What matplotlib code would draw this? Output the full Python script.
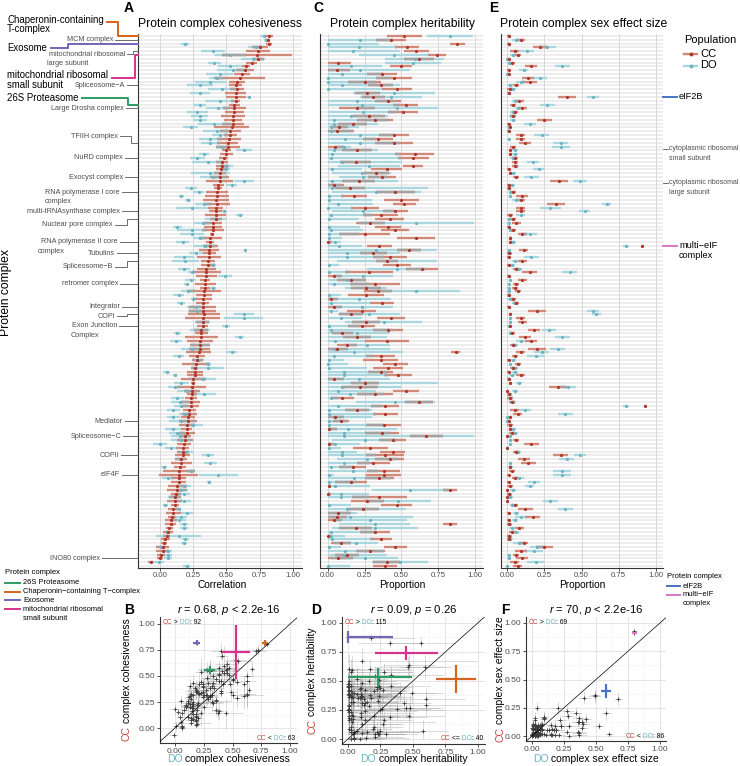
import numpy as np
import matplotlib
matplotlib.use("Agg")
import matplotlib.pyplot as plt

plt.rcParams["font.family"] = ["Liberation Sans", "DejaVu Sans"]
plt.rcParams["mathtext.fontset"] = "custom"
plt.rcParams["mathtext.rm"] = "Liberation Sans"
plt.rcParams["mathtext.it"] = "Liberation Sans:italic"

nan = float("nan")

# ---------------- data (rows ordered as in the figure, top to bottom) ----------------
# Panel A: cohesiveness (correlation), mean and CI half-width
A_CC = [0.82,0.81,0.82,0.75,0.74,0.73,0.74,0.69,0.65,0.64,
        0.62,0.60,0.58,0.57,0.58,0.57,0.57,0.57,0.56,0.56,
        0.56,0.55,0.55,0.55,0.54,0.53,0.53,0.52,0.51,0.51,
        0.50,0.50,0.48,0.47,0.47,0.46,0.45,0.45,0.45,0.44,
        0.44,0.43,0.43,0.42,0.43,0.42,0.42,0.42,0.42,0.40,
        0.40,0.40,0.39,0.38,0.38,0.38,0.37,0.37,0.37,0.36,
        0.36,0.35,0.35,0.35,0.34,0.34,0.34,0.33,0.33,0.32,
        0.32,0.32,0.32,0.33,0.32,0.32,0.32,0.31,0.31,0.31,
        0.30,0.30,0.30,0.29,0.28,0.28,0.27,0.26,0.26,0.26,
        0.25,0.25,0.24,0.24,0.24,0.23,0.23,0.23,0.22,0.22,
        0.21,0.21,0.20,0.20,0.20,0.19,0.19,0.18,0.17,0.17,
        0.17,0.16,0.16,0.15,0.14,0.14,0.14,0.14,0.13,0.13,
        0.12,0.11,0.11,0.11,0.10,0.10,0.09,0.08,0.08,0.07,
        0.06,0.05,0.04,0.03,0.02,0.02,0.01,0.00,-0.07,nan]
A_CC_hw = [0.03,0.02,0.025,0.06,0.09,0.26,0.04,0.04,0.03,0.065,
           0.06,0.19,0.06,0.05,0.05,0.08,0.075,0.035,0.04,0.085,
           0.07,0.09,0.07,0.08,0.13,0.08,0.05,0.09,0.08,0.09,
           0.035,0.05,0.035,0.045,0.05,0.04,0.045,0.07,0.10,0.04,
           0.03,0.085,0.09,0.10,0.10,0.055,0.05,0.08,0.045,0.07,
           0.07,0.085,0.015,0.085,0.03,0.055,0.075,0.05,0.09,0.055,
           0.055,0.07,0.11,0.08,0.04,0.08,0.04,0.13,0.06,0.07,
           0.05,0.10,0.10,0.12,0.13,0.05,0.04,0.055,0.05,0.125,
           0.10,0.075,0.08,0.095,0.06,0.04,0.105,0.025,0.06,0.06,
           0.095,0.015,0.11,0.06,0.035,0.045,0.07,0.065,0.05,0.055,
           0.05,0.065,0.06,0.04,0.06,0.045,0.06,0.055,0.05,0.045,
           0.055,0.045,0.08,0.045,0.12,0.145,0.055,0.055,0.07,0.075,
           0.04,0.045,0.055,0.03,0.04,0.055,0.03,0.045,0.04,0.025,
           0.035,0.025,0.035,0.025,0.05,0.05,0.03,0.025,0.02,0.02]
A_DO = [0.78,0.80,0.19,0.72,0.40,0.53,0.70,0.41,0.53,0.55,
        0.45,0.43,0.38,0.30,0.47,0.30,0.67,0.45,0.30,0.44,
        0.28,0.30,0.30,0.41,0.23,0.43,0.45,0.38,0.38,0.47,
        0.63,0.33,0.28,0.36,0.50,0.50,0.38,0.40,0.63,0.54,
        0.23,0.29,0.16,0.21,0.33,0.24,0.48,0.60,0.42,0.32,
        0.13,0.24,0.24,0.30,0.17,0.34,0.64,0.27,0.18,0.19,
        0.40,0.18,0.24,0.49,0.23,0.20,0.40,0.21,0.14,0.25,
        0.16,0.27,0.28,0.63,0.63,0.32,0.50,0.30,0.13,0.60,
        0.12,0.30,0.24,0.54,0.14,0.29,0.36,0.36,0.05,0.11,
        0.32,0.16,0.11,0.20,0.33,0.13,0.15,0.16,0.10,0.19,
        0.10,0.16,0.25,0.10,0.13,0.15,0.16,0.00,0.08,0.19,
        0.36,0.15,0.38,0.03,0.23,0.44,0.06,0.37,0.18,0.16,
        0.18,0.11,0.18,0.04,0.14,0.20,0.16,0.14,0.18,0.18,
        0.05,0.14,0.19,0.18,0.01,0.06,0.06,0.06,-0.01,0.20]
A_DO_hw = [0.02,0.02,0.03,0.055,0.09,0.12,0.09,0.05,0.09,0.12,
           0.10,0.06,0.12,0.10,0.11,0.075,0.015,0.11,0.05,0.09,
           0.08,0.065,0.055,0.125,0.055,0.11,0.06,0.09,0.075,0.05,
           0.06,0.04,0.055,0.12,0.05,0.03,0.15,0.10,0.075,0.04,
           0.045,0.04,0.02,0.025,0.065,0.12,0.02,0.025,0.08,0.065,
           0.035,0.115,0.09,0.055,0.05,0.085,0.01,0.055,0.075,0.10,
           0.02,0.045,0.03,0.05,0.04,0.02,0.025,0.05,0.04,0.02,
           0.03,0.07,0.07,0.075,0.145,0.06,0.03,0.075,0.025,0.035,
           0.045,0.075,0.08,0.04,0.04,0.04,0.025,0.125,0.025,0.015,
           0.10,0.055,0.05,0.075,0.09,0.05,0.065,0.055,0.05,0.05,
           0.05,0.095,0.07,0.06,0.06,0.07,0.075,0.055,0.045,0.055,
           0.045,0.04,0.05,0.02,0.03,0.15,0.045,0.015,0.055,0.05,
           0.045,0.05,0.05,0.02,0.02,0.045,0.045,0.055,0.03,0.03,
           0.015,0.17,0.025,0.025,0.025,0.03,0.03,0.03,0.04,0.025]

# Panel C: heritability (proportion)
C_CC = [0.52,0.43,0.88,0.54,0.60,0.74,0.62,0.07,0.50,0.06,
        0.37,0.45,0.25,0.36,0.47,0.27,0.31,0.41,0.53,0.20,
        0.51,0.28,0.32,0.17,0.08,0.06,0.45,0.34,0.45,0.05,
        0.20,0.59,0.58,0.19,0.58,0.40,0.33,0.37,0.21,0.04,
        0.15,0.46,0.18,0.50,0.52,0.25,0.46,0.36,0.42,0.29,
        0.41,0.46,0.25,0.60,0.00,0.35,0.55,0.31,0.42,0.40,
        0.47,0.64,0.28,0.04,0.16,0.32,0.26,0.34,0.26,0.02,
        0.37,0.04,0.23,0.16,0.43,0.26,0.23,0.41,0.10,0.20,
        0.40,0.13,0.06,0.87,0.36,0.36,0.46,0.41,0.36,0.48,
        0.04,0.25,0.22,0.53,0.32,0.10,0.62,0.39,0.20,0.39,
        0.05,0.09,0.38,0.01,0.37,0.67,0.44,0.01,0.29,0.44,
        0.39,0.42,0.31,0.17,0.38,0.38,0.35,0.16,0.01,0.83,
        0.00,0.35,0.27,0.47,0.24,0.07,0.06,0.04,0.83,0.19,
        0.32,0.00,0.36,0.09,0.46,0.29,0.13,0.07,0.40,0.39]
C_CC_hw = [0.12,0.10,0.05,0.08,0.085,0.06,0.10,0.09,0.075,0.09,
           0.10,0.12,0.11,0.085,0.10,0.085,0.08,0.09,0.085,0.12,
           0.10,0.11,0.12,0.10,0.06,0.12,0.105,0.10,0.13,0.06,
           0.10,0.13,0.105,0.105,0.07,0.105,0.085,0.095,0.11,0.07,
           0.10,0.13,0.09,0.12,0.08,0.095,0.085,0.12,0.10,0.10,
           0.09,0.095,0.17,0.13,0.03,0.085,0.08,0.09,0.115,0.075,
           0.095,0.11,0.165,0.06,0.10,0.17,0.10,0.095,0.12,0.05,
           0.08,0.06,0.10,0.08,0.095,0.095,0.09,0.10,0.07,0.095,
           0.15,0.07,0.08,0.03,0.10,0.12,0.085,0.10,0.085,0.095,
           0.07,0.095,0.12,0.09,0.12,0.08,0.095,0.095,0.08,0.085,
           0.06,0.055,0.12,0.05,0.115,0.11,0.09,0.03,0.12,0.085,
           0.13,0.10,0.11,0.09,0.11,0.12,0.10,0.11,0.01,0.05,
           0.02,0.185,0.11,0.105,0.11,0.09,0.07,0.06,0.05,0.11,
           0.10,0.02,0.075,0.07,0.075,0.10,0.08,0.10,0.09,0.08]
C_DO = [0.83,0.22,0.00,0.21,0.17,0.45,0.59,0.58,0.16,0.22,
        0.10,0.00,0.00,0.10,0.00,0.45,0.43,0.20,0.23,0.47,
        0.24,0.16,0.04,0.04,0.02,0.02,0.22,0.12,0.22,0.11,
        0.04,0.03,0.02,0.10,0.28,0.03,0.23,0.24,0.03,0.04,
        0.03,0.33,0.01,0.01,0.07,0.00,0.24,0.02,0.01,0.60,
        0.01,0.02,0.01,0.01,0.05,0.08,0.33,0.13,0.13,0.40,
        0.01,0.47,0.01,0.24,0.13,0.04,0.26,0.60,0.01,0.21,
        0.02,0.23,0.02,0.28,0.09,0.38,0.01,0.02,0.20,0.20,
        0.05,0.27,0.05,0.18,0.04,0.01,0.00,0.01,0.11,0.11,
        0.21,0.25,0.10,0.07,0.15,0.02,0.46,0.07,0.01,0.01,
        0.05,0.01,0.01,0.14,0.11,0.11,0.25,0.05,0.01,0.10,
        0.10,0.27,0.11,0.02,0.17,0.01,0.18,0.01,0.05,0.56,
        0.09,0.09,0.48,0.01,0.13,0.07,0.15,0.29,0.32,0.32,
        0.02,0.02,0.03,0.19,0.01,0.12,0.11,0.25,0.49,0.00]
C_DO_hw = [0.155,0.22,0.35,0.26,0.32,0.24,0.20,0.19,0.21,0.34,
           0.28,0.43,0.33,0.39,0.37,0.28,0.21,0.25,0.26,0.28,
           0.23,0.25,0.37,0.30,0.19,0.15,0.23,0.21,0.27,0.05,
           0.30,0.46,0.48,0.40,0.21,0.20,0.20,0.16,0.45,0.05,
           0.65,0.30,0.10,0.29,0.24,0.17,0.21,0.28,0.20,0.39,
           0.21,0.22,0.20,0.09,0.04,0.15,0.41,0.36,0.25,0.34,
           0.07,0.20,0.14,0.20,0.12,0.24,0.14,0.30,0.08,0.22,
           0.27,0.21,0.05,0.21,0.14,0.26,0.21,0.42,0.22,0.20,
           0.20,0.15,0.37,0.33,0.27,0.10,0.14,0.26,0.29,0.30,
           0.21,0.50,0.40,0.26,0.23,0.06,0.27,0.30,0.29,0.32,
           0.25,0.12,0.37,0.33,0.31,0.88,0.22,0.17,0.08,0.10,
           0.23,0.21,0.18,0.16,0.17,0.03,0.25,0.19,0.24,0.26,
           0.19,0.19,0.22,0.15,0.40,0.13,0.43,0.25,0.24,0.29,
           0.30,0.10,0.28,0.15,0.08,0.26,0.29,0.23,0.19,0.15]

# Panel E: sex effect size (proportion)
E_CC = [0.01,0.09,0.01,0.22,0.05,0.07,0.01,0.03,0.16,0.01,
        0.01,0.14,0.15,0.06,0.02,0.01,0.40,0.08,0.04,0.10,
        0.05,0.04,0.25,0.01,0.02,0.01,0.09,0.09,0.12,0.04,
        0.02,0.02,0.05,0.05,0.05,0.01,0.02,0.06,0.35,0.01,
        0.01,0.04,0.10,0.09,0.33,0.09,0.09,0.02,0.04,0.06,
        0.01,0.04,0.10,0.02,0.02,0.91,0.11,0.01,0.01,0.10,
        0.01,0.06,0.15,0.01,0.10,0.06,0.05,0.07,0.01,0.04,
        0.06,0.01,0.20,0.02,0.09,0.10,0.02,0.18,0.03,0.12,
        0.16,0.04,0.20,0.09,0.05,0.01,0.07,0.04,0.01,0.09,
        0.01,0.02,0.34,0.00,0.01,0.02,0.03,0.93,0.05,0.07,
        0.02,0.01,0.02,0.02,0.03,0.00,0.06,0.16,0.00,0.06,
        0.36,0.11,0.14,0.02,0.03,0.01,0.05,0.01,0.02,0.00,
        0.01,0.00,0.00,0.05,0.12,0.01,0.17,0.01,0.01,0.08,
        0.03,0.01,0.01,0.11,0.25,0.09,0.06,0.10,0.05,0.07]
E_CC_hw = [0.01,0.03,0.01,0.05,0.03,0.02,0.01,0.02,0.04,0.01,
           0.01,0.04,0.05,0.02,0.02,0.01,0.06,0.03,0.02,0.03,
           0.02,0.02,0.05,0.01,0.01,0.01,0.03,0.03,0.04,0.02,
           0.01,0.01,0.02,0.02,0.02,0.01,0.01,0.02,0.06,0.01,
           0.01,0.02,0.04,0.03,0.06,0.03,0.03,0.02,0.02,0.03,
           0.01,0.02,0.03,0.01,0.01,0.01,0.03,0.01,0.01,0.03,
           0.01,0.02,0.05,0.01,0.03,0.02,0.02,0.02,0.01,0.02,
           0.02,0.01,0.06,0.01,0.03,0.03,0.01,0.04,0.02,0.04,
           0.04,0.02,0.06,0.03,0.02,0.01,0.02,0.02,0.01,0.03,
           0.01,0.01,0.06,0.01,0.01,0.02,0.02,0.01,0.03,0.03,
           0.01,0.01,0.02,0.01,0.02,0.01,0.02,0.05,0.01,0.02,
           0.05,0.04,0.05,0.01,0.02,0.01,0.02,0.01,0.02,0.01,
           0.01,0.01,0.01,0.02,0.05,0.01,0.05,0.01,0.01,0.03,
           0.02,0.01,0.01,0.03,0.06,0.04,0.02,0.04,0.03,0.03]
E_DO = [0.01,0.06,0.01,0.27,0.13,0.04,0.00,0.01,0.37,0.11,
        0.00,0.22,0.09,0.02,0.04,0.01,0.58,0.05,0.27,0.07,
        0.04,0.03,0.04,0.15,0.01,0.01,0.23,0.01,0.36,0.36,
        0.05,0.05,0.04,0.17,0.06,0.21,0.04,0.16,0.49,0.03,
        0.01,0.02,0.02,0.06,0.67,0.29,0.52,0.09,0.01,0.01,
        0.01,0.02,0.15,0.02,0.04,0.80,0.01,0.02,0.16,0.05,
        0.03,0.08,0.42,0.01,0.02,0.01,0.01,0.01,0.01,0.02,
        0.05,0.01,0.58,0.60,0.02,0.02,0.01,0.28,0.02,0.37,
        0.09,0.05,0.34,0.23,0.19,0.04,0.02,0.05,0.05,0.03,
        0.01,0.08,0.41,0.05,0.02,0.02,0.04,0.80,0.12,0.39,
        0.00,0.00,0.02,0.04,0.05,0.02,0.02,0.02,0.00,0.07,
        0.49,0.40,0.02,0.02,0.37,0.37,0.08,0.18,0.15,0.04,
        0.02,0.02,0.29,0.03,0.39,0.06,0.09,0.05,0.02,0.03,
        0.06,0.02,0.02,0.08,0.20,0.18,0.01,0.01,0.19,0.00]
E_DO_hw = [0.01,0.03,0.01,0.06,0.05,0.02,0.01,0.01,0.05,0.03,
           0.01,0.05,0.03,0.02,0.02,0.01,0.04,0.02,0.05,0.02,
           0.02,0.02,0.02,0.04,0.01,0.01,0.05,0.01,0.05,0.06,
           0.02,0.02,0.02,0.04,0.02,0.04,0.02,0.05,0.05,0.02,
           0.01,0.01,0.01,0.03,0.03,0.07,0.04,0.03,0.01,0.01,
           0.01,0.01,0.05,0.01,0.02,0.02,0.01,0.01,0.05,0.02,
           0.02,0.02,0.05,0.01,0.01,0.01,0.01,0.01,0.01,0.02,
           0.02,0.01,0.04,0.03,0.01,0.01,0.01,0.05,0.01,0.05,
           0.03,0.02,0.05,0.05,0.06,0.02,0.01,0.02,0.02,0.02,
           0.01,0.02,0.05,0.02,0.01,0.02,0.02,0.02,0.04,0.05,
           0.01,0.01,0.01,0.02,0.02,0.01,0.01,0.01,0.01,0.02,
           0.04,0.05,0.01,0.02,0.06,0.06,0.03,0.04,0.03,0.02,
           0.01,0.02,0.05,0.01,0.05,0.02,0.04,0.02,0.01,0.02,
           0.02,0.01,0.02,0.04,0.05,0.06,0.01,0.01,0.06,0.01]

# highlighted complexes (row index in the ordering above)
GREEN, ORANGE, PURPLE, PINK = "#2E9B62", "#D5651C", "#6F67B8", "#D6338C"
BLUE, MAGENTA = "#4A74C1", "#DA76C6"
HL_LEFT = [("26S Proteasome", 18, GREEN),
           ("Chaperonin\u2212containing T\u2212complex", 0, ORANGE),
           ("Exosome", 2, PURPLE),
           ("mitochondrial ribosomal\nsmall subunit", 5, PINK)]
HL_RIGHT = [("eIF2B", 16, BLUE), ("multi\u2212eIF\ncomplex", 55, MAGENTA)]

# labelled complexes on the left of panel A: text, row, right x, text y, elbow x, second line
SMALL_LABELS = [
    ("MCM complex", 1, 113, None, None, None),
    ("mitochondrial ribosomal", 4, 125, 54, 133, ("large subunit", 47, 9.3)),
    ("Spliceosome\u2212A", 13, 125, None, None, None),
    ("Large Drosha complex", 19, 124, None, None, None),
    ("TFIIH complex", 28, 118, 136, 131, None),
    ("NuRD complex", 32, 123, None, None, None),
    ("Exocyst complex", 37, 123, None, None, None),
    ("RNA polymerase I core", 41, 120, None, None, ("complex", 45, 9.5)),
    ("multi-tRNAsynthase complex", 46, 120, None, None, None),
    ("Nuclear pore complex", 48, 113, 224.7, 127, None),
    ("RNA polymerase II core", 54, 118, None, None, ("complex", 38, 9.5)),
    ("Tubulins", 57, 115, None, None, None),
    ("Spliceosome\u2212B", 59, 113, 266.7, 127, None),
    ("retromer complex", 65, 118, None, None, None),
    ("Integrator", 71, 120, None, None, None),
    ("COPI", 73, 115, 316, 127, None),
    ("Exon Junction", 76, 117, None, None, ("Complex", 71, 9.5)),
    ("Mediator", 101, 123, None, None, None),
    ("Spliceosome\u2212C", 105, 121, None, None, None),
    ("COPII", 110, 119, None, None, None),
    ("eIF4F", 115, 120, None, None, None),
    ("INO80 complex", 137, 100, None, None, None),
]
BIG_LABELS = [
    (["Chaperonin-containing", "T-complex"], [20, 29.5], 0, (107, 22), 118, ORANGE),
    (["Exosome"], [47.7], 2, (51, 47.7), 68, PURPLE),
    (["mitochondrial ribosomal", "small subunit"], [75, 85], 5, (112, 77.5), 135, PINK),
    (["26S Proteasome"], [98], 18, (82, 98), 128, GREEN),
]

# ---------------- figure ----------------
W, H = 740, 766
fig = plt.figure(figsize=(W / 100, H / 100), dpi=100)
fig.patch.set_facecolor("white")

CC_DOT, CC_BAR = "#B2372B", "#CF8A7A"
DO_DOT, DO_BAR = "#6DB3C1", "#ABD6DE"
OVERLAP = "#A3A3A3"
CC_TXT, DO_TXT = "#C0463A", "#6CB4C4"
TICKS = [0, 0.25, 0.5, 0.75, 1.0]
TICKLAB = ["0.00", "0.25", "0.50", "0.75", "1.00"]


def add_ax(x0, y0, x1, y1):
    return fig.add_axes([x0 / W, 1 - y1 / H, (x1 - x0) / W, (y1 - y0) / H])


def interval(m, hw, clip):
    m = np.asarray(m, float)
    hw = np.asarray(hw, float)
    lo, hi = m - hw, m + hw
    if clip:
        lo, hi = np.clip(lo, 0, 1), np.clip(hi, 0, 1)
    return lo, hi


def style_axes(ax, labelsize, pad=1.2):
    for s in ("top", "right"):
        ax.spines[s].set_visible(False)
    for s in ("left", "bottom"):
        ax.spines[s].set_color("#333333")
        ax.spines[s].set_linewidth(0.8)
    ax.set_xticks(TICKS)
    ax.set_xticklabels(TICKLAB)
    ax.tick_params(axis="both", labelsize=labelsize, labelcolor="#4D4D4D",
                   color="#333333", length=2.2, width=0.6, pad=pad)


def dot_panel(ax, cc, cc_hw, do, do_hw, xlim, clip):
    cc = np.asarray(cc, float)
    do = np.asarray(do, float)
    rows = np.arange(len(cc))
    ax.set_xlim(*xlim)
    ax.set_ylim(len(cc) - 0.5, -0.5)
    ax.hlines(rows, xlim[0], xlim[1], color="#EBEBEB", lw=1.25, zorder=0)
    for v in TICKS:
        ax.axvline(v, color="#D3D3D3", lw=0.6, zorder=0.5)
    clo, chi = interval(cc, cc_hw, clip)
    dlo, dhi = interval(do, do_hw, clip)
    ax.hlines(rows, dlo, dhi, color=DO_BAR, lw=1.7, zorder=1)
    ax.hlines(rows, clo, chi, color=CC_BAR, lw=1.7, zorder=2)
    olo, ohi = np.maximum(clo, dlo), np.minimum(chi, dhi)
    ok = ohi > olo
    ax.hlines(rows[ok], olo[ok], ohi[ok], color=OVERLAP, lw=1.7, zorder=3)
    ax.plot(do, rows, "o", ms=2.3, mew=0, color=DO_DOT, zorder=4)
    ax.plot(cc, rows, "o", ms=2.3, mew=0, color=CC_DOT, zorder=5)
    style_axes(ax, 5.6, pad=0.7)
    ax.set_yticks([])


def scatter_panel(ax, x, xhw, y, yhw, clip, xlim, ylim, highlights):
    x = np.asarray(x, float)
    y = np.asarray(y, float)
    xlo, xhi = interval(x, xhw, clip)
    ylo, yhi = interval(y, yhw, clip)
    ax.set_xlim(*xlim)
    ax.set_ylim(*ylim)
    for v in [0.125, 0.375, 0.625, 0.875]:
        ax.axvline(v, color="#F2F2F2", lw=0.4, zorder=0)
        ax.axhline(v, color="#F2F2F2", lw=0.4, zorder=0)
    for v in TICKS:
        ax.axvline(v, color="#E2E2E2", lw=0.6, zorder=0)
        ax.axhline(v, color="#E2E2E2", lw=0.6, zorder=0)
    ax.hlines(y, xlo, xhi, color="#9A9A9A", lw=0.7, alpha=0.35, zorder=1)
    ax.vlines(x, ylo, yhi, color="#9A9A9A", lw=0.7, alpha=0.35, zorder=1)
    ax.plot(x, y, "+", ms=2.6, mew=0.6, color="#3C3C3C", zorder=2)
    ax.axline((0, 0), (1, 1), color="black", lw=0.5, zorder=3)
    for _, r, col in highlights:
        ax.hlines(y[r], xlo[r], xhi[r], color=col, lw=1.6, zorder=4)
        ax.vlines(x[r], ylo[r], yhi[r], color=col, lw=1.6, zorder=4)
    style_axes(ax, 6.0)
    ax.set_yticks(TICKS)
    ax.set_yticklabels(TICKLAB)


axA = add_ax(138, 34, 302, 568)
dot_panel(axA, A_CC, A_CC_hw, A_DO, A_DO_hw, (-0.165, 1.068), False)
axC = add_ax(320, 34, 483, 568)
dot_panel(axC, C_CC, C_CC_hw, C_DO, C_DO_hw, (-0.052, 1.054), True)
axE = add_ax(501, 34, 663, 568)
dot_panel(axE, E_CC, E_CC_hw, E_DO, E_DO_hw, (-0.043, 1.049), True)

axB = add_ax(160, 617, 297, 743)
scatter_panel(axB, A_DO, A_DO_hw, A_CC, A_CC_hw, False, (-0.13, 1.06), (-0.144, 1.067), HL_LEFT)
axD = add_ax(342, 617, 485, 744)
scatter_panel(axD, C_DO, C_DO_hw, C_CC, C_CC_hw, True, (-0.046, 1.054), (-0.043, 1.05), HL_LEFT)
axF = add_ax(526, 617, 666, 741)
scatter_panel(axF, E_DO, E_DO_hw, E_CC, E_CC_hw, True, (-0.047, 1.047), (-0.044, 1.053), HL_RIGHT)

# overlay in pixel coordinates (y downward)
ov = fig.add_axes([0, 0, 1, 1], zorder=10)
ov.set_xlim(0, W)
ov.set_ylim(H, 0)
ov.axis("off")
renderer = fig.canvas.get_renderer()


def row_py(ax, r):
    return H - ax.transData.transform((0, r))[1]


def chain(parts, x, y, size, ha="center", va="center", rotation=0):
    full = "".join(p for p, _ in parts)
    probe = ov.text(x, y, full, fontsize=size, ha=ha, va=va, rotation=rotation)
    bb = probe.get_window_extent(renderer)
    probe.remove()
    prev = None
    for s, c in parts:
        if prev is None:
            prev = ov.annotate(s, xy=(bb.x0, bb.y0), xycoords="figure pixels", fontsize=size,
                               color=c, ha="left", va="bottom", rotation=rotation)
        else:
            prev = ov.annotate(s, xy=(1, 0) if rotation == 0 else (0, 1), xycoords=prev,
                               fontsize=size, color=c, ha="left", va="bottom", rotation=rotation)


# titles and panel letters
for letter, lx in (("A", 129), ("C", 318), ("E", 494)):
    ov.text(lx, 8, letter, fontsize=10, fontweight="bold", ha="center", va="center")
ov.text(220, 23.5, "Protein complex cohesiveness", fontsize=8.75, ha="center", va="center")
ov.text(402, 23.5, "Protein complex heritability", fontsize=8.75, ha="center", va="center")
ov.text(584, 23.5, "Protein complex sex effect size", fontsize=8.75, ha="center", va="center")
ov.text(222, 585.5, "Correlation", fontsize=7.3, ha="center", va="center")
ov.text(402, 585.5, "Proportion", fontsize=7.3, ha="center", va="center")
ov.text(582, 585.5, "Proportion", fontsize=7.3, ha="center", va="center")
ov.text(6, 293, "Protein complex", fontsize=8.7, rotation=90, ha="center", va="center")

# left labels of panel A
axis_x = 138
for text, r, xr, ty, ex, line2 in SMALL_LABELS:
    ry = row_py(axA, r)
    y = ry if ty is None else ty
    ov.text(xr, y, text, fontsize=5.2, color="#4D4D4D", ha="right", va="center")
    if line2 is not None:
        ov.text(line2[1], y + line2[2], line2[0], fontsize=5.2, color="#4D4D4D", ha="left", va="center")
    if ex is None:
        ov.plot([xr + 1.5, axis_x], [ry, ry], color="#555555", lw=0.6)
    else:
        ov.plot([xr + 1.5, ex, ex, axis_x], [y, y, ry, ry], color="#555555", lw=0.6)
for lines, ys, r, (sx, sy), ex, col in BIG_LABELS:
    for t, yy in zip(lines, ys):
        ov.text(7, yy, t, fontsize=6.9, ha="left", va="center")
    ry = row_py(axA, r)
    ov.plot([sx, ex, ex, axis_x], [sy, sy, ry, ry], color=col, lw=1.4)

# right labels of panel E
for name, r, col in HL_RIGHT:
    ry = row_py(axE, r)
    ov.plot([663, 677], [ry, ry], color=col, lw=1.4)
    parts = name.split("\n")
    for k, t in enumerate(parts):
        ov.text(679, ry + 10 * k, t, fontsize=6.6, ha="left", va="center")
for t1, t2, yy in (("cytoplasmic ribosomal", "small subunit", 149),
                   ("cytoplasmic ribosomal", "large subunit", 182.7)):
    ov.plot([663, 668], [yy, yy], color="#555555", lw=0.6)
    ov.text(669, yy, t1, fontsize=5, color="#4D4D4D", ha="left", va="center")
    ov.text(669, yy + 9.3, t2, fontsize=5, color="#4D4D4D", ha="left", va="center")

# Population legend
ov.text(684, 40, "Population", fontsize=7.9, ha="left", va="center")
for lab, yy, bar, dot in (("CC", 54, CC_BAR, CC_DOT), ("DO", 65.5, DO_BAR, DO_DOT)):
    ov.plot([684, 697], [yy, yy], color=bar, lw=1.7)
    ov.plot([690.5], [yy], "o", ms=2.8, mew=0, color=dot)
    ov.text(700, yy, lab, fontsize=8, ha="left", va="center")

# bottom-left legend
ov.text(5, 573, "Protein complex", fontsize=5.5, ha="left", va="center")
for k, (name, _, col) in enumerate(HL_LEFT):
    yy = 582.7 + 8.8 * k
    ov.plot([5, 20], [yy, yy], color=col, lw=1.4)
    for j, t in enumerate(name.split("\n")):
        ov.text(23, yy + 9 * j, t, fontsize=5.4, ha="left", va="center")

# bottom-right legend
ov.text(667, 577, "Protein complex", fontsize=5.5, ha="left", va="center")
for k, (name, _, col) in enumerate(HL_RIGHT):
    yy = 586 + 9 * k
    ov.plot([667, 680], [yy, yy], color=col, lw=1.4)
    for j, t in enumerate(name.split("\n")):
        ov.text(683, yy + 8.5 * j, t, fontsize=5.4, ha="left", va="center")

# scatter panels: letters, titles, axis labels, counts
SCAT = [
    (axB, "B", 129, "$r$ = 0.68, $p$ < 2.2e-16", "cohesiveness", 127,
     [("CC", CC_TXT), (" >", "k"), (" DO", DO_TXT), (": 92", "k")],
     [("CC", CC_TXT), (" <", "k"), (" DO", DO_TXT), (": 63", "k")]),
    (axD, "D", 316, "$r$ = 0.09, $p$ = 0.26", "heritability", 312,
     [("CC", CC_TXT), (" >", "k"), (" DO", DO_TXT), (": 115", "k")],
     [("CC", CC_TXT), (" <=", "k"), (" DO", DO_TXT), (": 40", "k")]),
    (axF, "F", 505, "$r$ = 70, $p$ < 2.2e-16", "sex effect size", 500,
     [("CC", CC_TXT), (" >", "k"), (" DO", DO_TXT), (": 69", "k")],
     [("CC", CC_TXT), (" <", "k"), (" DO", DO_TXT), (": 86", "k")]),
]
for ax, letter, lx, title, metric, ylx, top, bottom in SCAT:
    bb = ax.get_position()
    x0, x1 = bb.x0 * W, bb.x1 * W
    y0, y1 = H - bb.y1 * H, H - bb.y0 * H
    cx, cy = (x0 + x1) / 2, (y0 + y1) / 2
    ov.text(lx, 610, letter, fontsize=10, fontweight="bold", ha="center", va="center")
    ov.text(cx, 610, title, fontsize=8.1, ha="center", va="center")
    chain([("DO", DO_TXT), (" complex " + metric, "k")], cx, 759.5, 7.5, ha="center", va="center")
    chain([("CC", CC_TXT), (" complex " + metric, "k")], ylx, cy, 7.5, ha="center", va="center", rotation=90)
    chain(top, x0 + 3, y0 + 6, 4.8, ha="left", va="center")
    chain(bottom, x1 - 2, y1 - 5, 4.8, ha="right", va="center")

fig.savefig("out.png", dpi=100, facecolor="white")
